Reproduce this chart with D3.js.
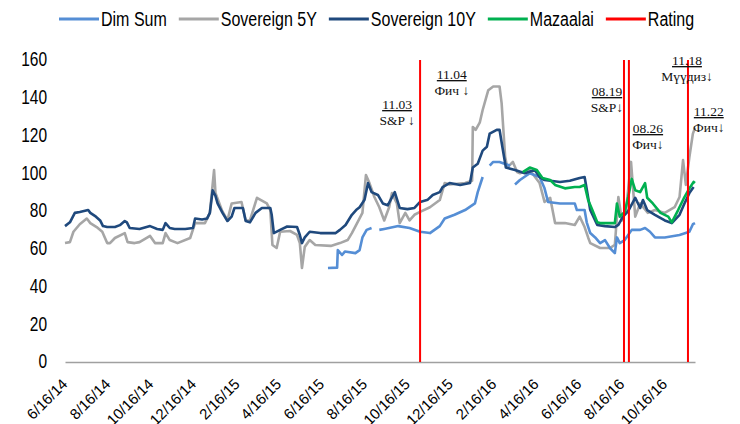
<!DOCTYPE html>
<html><head><meta charset="utf-8">
<script src="https://cdn.jsdelivr.net/npm/d3@7"></script>
<style>body{margin:0;background:#fff}svg{display:block}</style>
</head><body><svg id="c" width="740" height="424"></svg>
<script>
// ---------------- DATA ----------------
const seriesNames = ["Dim Sum", "Sovereign 5Y", "Sovereign 10Y", "Mazaalai", "Rating"];
const yTickValues = [0, 20, 40, 60, 80, 100, 120, 140, 160];
const xTickDates = ["2014-06-16","2014-08-16","2014-10-16","2014-12-16","2015-02-16","2015-04-16","2015-06-16","2015-08-16","2015-10-16","2015-12-16","2016-02-16","2016-04-16","2016-06-16","2016-08-16","2016-10-16"];

const sov10Dates = ["2014-06-16","2014-06-23","2014-06-30","2014-07-07","2014-07-19","2014-07-22","2014-07-30","2014-08-05","2014-08-09","2014-08-15","2014-08-26","2014-09-02","2014-09-09","2014-09-12","2014-09-16","2014-09-30","2014-10-15","2014-10-25","2014-11-02","2014-11-06","2014-11-12","2014-11-19","2014-12-04","2014-12-15","2014-12-18","2014-12-28","2015-01-04","2015-01-08","2015-01-12","2015-01-16","2015-01-19","2015-01-26","2015-02-02","2015-02-08","2015-02-12","2015-02-24","2015-02-28","2015-03-06","2015-03-14","2015-03-23","2015-04-04","2015-04-06","2015-04-09","2015-04-18","2015-04-28","2015-05-12","2015-05-16","2015-05-19","2015-05-23","2015-05-30","2015-06-14","2015-07-06","2015-07-12","2015-07-20","2015-07-29","2015-08-04","2015-08-09","2015-08-16","2015-08-21","2015-08-26","2015-09-04","2015-09-11","2015-09-18","2015-09-28","2015-10-05","2015-10-16","2015-10-26","2015-11-03","2015-11-14","2015-11-21","2015-12-01","2015-12-05","2015-12-15","2015-12-30","2016-01-13","2016-01-17","2016-01-24","2016-01-31","2016-02-06","2016-02-10","2016-02-20","2016-02-24","2016-02-28","2016-03-04","2016-03-17","2016-03-31","2016-04-14","2016-04-21","2016-04-28","2016-05-20","2016-06-03","2016-06-17","2016-06-24","2016-06-26","2016-07-02","2016-07-12","2016-07-23","2016-08-06","2016-08-11","2016-08-16","2016-08-20","2016-08-25","2016-08-28","2016-09-04","2016-09-11","2016-09-15","2016-09-21","2016-10-02","2016-10-16","2016-10-26","2016-11-06","2016-11-13","2016-11-20","2016-11-26"];
const sov10Values = [72,74,79,79.5,80.5,79,77,75,72,71.5,71.5,72.5,74.7,74,71,70.5,72,70.5,70,73.6,71,70.5,70.5,71,76,75.5,76,79,91,88,84,79,74.7,77,81.6,81.6,74.7,74,79,81.6,81.6,78,68.3,70,71.8,71.5,67.3,63,66,69,68.3,68.3,70,72.6,78,80.5,82,86,94.8,90,88.5,84,83,90,81.6,81,81.6,84.8,86,88.5,90,92.7,94.8,93.8,94.8,103,105,112,114,121,123,123,114,103,101.7,100,101.7,98,96.4,95.4,96,97.5,98,93.8,80.5,72.6,72,71.5,72.6,76,78,80,82,87,81.6,85.8,80.5,78,75,73.6,78,84,89.5,92.7];

const sov5Dates = ["2014-06-16","2014-06-23","2014-06-28","2014-07-07","2014-07-17","2014-07-22","2014-07-31","2014-08-08","2014-08-15","2014-08-19","2014-08-26","2014-09-09","2014-09-13","2014-09-23","2014-09-30","2014-10-15","2014-10-22","2014-11-02","2014-11-06","2014-11-12","2014-11-23","2014-12-11","2014-12-18","2015-01-01","2015-01-08","2015-01-14","2015-01-16","2015-01-25","2015-02-02","2015-02-08","2015-02-22","2015-02-28","2015-03-06","2015-03-16","2015-03-30","2015-04-04","2015-04-07","2015-04-13","2015-04-18","2015-05-02","2015-05-12","2015-05-16","2015-05-19","2015-05-23","2015-05-30","2015-06-07","2015-06-29","2015-07-12","2015-07-23","2015-07-29","2015-08-06","2015-08-13","2015-08-18","2015-08-23","2015-08-30","2015-09-06","2015-09-13","2015-09-20","2015-09-24","2015-10-01","2015-10-05","2015-10-13","2015-10-19","2015-10-26","2015-11-03","2015-11-17","2015-12-01","2015-12-08","2015-12-15","2016-01-06","2016-01-16","2016-01-17","2016-01-21","2016-01-27","2016-01-31","2016-02-08","2016-02-15","2016-02-24","2016-02-27","2016-03-03","2016-03-06","2016-03-14","2016-03-20","2016-03-24","2016-04-07","2016-04-21","2016-04-28","2016-05-06","2016-05-13","2016-05-27","2016-06-10","2016-06-17","2016-06-24","2016-06-29","2016-07-02","2016-07-16","2016-07-30","2016-08-06","2016-08-11","2016-08-16","2016-08-22","2016-08-29","2016-09-04","2016-09-11","2016-09-22","2016-10-02","2016-10-16","2016-10-30","2016-11-06","2016-11-11","2016-11-15","2016-11-20","2016-11-25","2016-11-28"];
const sov5Values = [63,63.5,69,73,76,73.6,71.5,69,63,63,65.7,68.3,63.5,63,63.5,66.8,63,63,68.3,64.6,63,65.7,73.6,73.6,79,101.7,89.5,80.5,75,84,84.8,75,75,87,84,80.5,62,60.4,69,69.4,67.3,63,49.8,61,64.6,62,61.5,63,64.6,68.3,74,79,99,94.8,87.4,82,75,82,89.5,84,73.6,79,75,78,79.5,82,85.8,94.8,94,94.8,96,124.5,123,127,133.5,144,146,146,137,108.6,103,106,100.6,100,101.7,94.8,84.8,87,73.6,73.6,72.6,77,71.5,66,63,60.4,60.4,62,87.4,75,80.5,106,77,84,79,80.5,79,82,87.4,107,93.8,108.6,121,124];

const dimSumDates = ["2015-06-25","2015-07-08","2015-07-09","2015-07-15","2015-07-19","2015-08-03","2015-08-09","2015-08-13","2015-08-19","2015-08-26","2015-08-31","2015-09-06","2015-09-13","2015-10-03","2015-10-19","2015-11-03","2015-11-17","2015-12-01","2015-12-08","2015-12-22","2016-01-06","2016-01-20","2016-01-24","2016-01-31","2016-02-04","2016-02-10","2016-02-15","2016-02-24","2016-03-10","2016-03-13","2016-03-17","2016-03-24","2016-04-07","2016-04-21","2016-04-28","2016-05-03","2016-05-20","2016-06-10","2016-06-13","2016-06-24","2016-06-27","2016-07-02","2016-07-09","2016-07-16","2016-07-23","2016-07-30","2016-08-06","2016-08-09","2016-08-13","2016-08-20","2016-08-30","2016-09-11","2016-09-18","2016-09-25","2016-10-02","2016-10-16","2016-11-06","2016-11-20","2016-11-25","2016-11-28"];
const dimSumValues = [49.8,50,59.3,56.7,58.5,57.7,59.3,66,70,71,null,70,70.5,72,71,69,68.3,72,76,78,80.5,84,90,98,null,104,106,106,104,null,94,96.4,100,98,92,84.8,84,84,80.5,80.5,74,68.3,66,63,64.6,60.4,57.7,66,63,64.6,70,70,71,69,66,66,67.3,69,73,73.6];

const mazaalaiDates = ["2016-03-28","2016-04-07","2016-04-17","2016-04-25","2016-05-06","2016-05-13","2016-05-27","2016-06-10","2016-06-17","2016-06-24","2016-06-29","2016-07-05","2016-07-12","2016-07-16","2016-08-06","2016-08-09","2016-08-13","2016-08-20","2016-08-25","2016-08-30","2016-09-04","2016-09-11","2016-09-18","2016-09-21","2016-09-29","2016-10-10","2016-10-21","2016-10-26","2016-11-04","2016-11-13","2016-11-20","2016-11-26","2016-11-28"];
const mazaalaiValues = [100.6,103,101.7,97.5,96.4,93.8,92,92.7,92.7,93.8,85.8,80.5,74,73.6,73.6,84,77,79.5,87.4,97,91,90,94.8,87,84,79,77,74,80.5,87.4,92,95.4,94.8];

const ratingLineDates = ["2015-11-03","2016-08-19","2016-08-26","2016-11-18"];
const ratingDates = ["2015-11-03","2015-11-04","2016-08-19","2016-08-26","2016-11-18","2016-11-22"];
const ratingLabels = ["11.03","11.04","08.19","08.26","11.18","11.22"];
const ratingAgencies = ["S&P ↓","Фич ↓","S&P↓","Фич↓","Мүүдиз↓","Фич↓"];

// ---------------- LAYOUT / STYLE ----------------
const colors = {"Dim Sum":"#558ED5","Sovereign 5Y":"#A6A6A6","Sovereign 10Y":"#1F497D","Mazaalai":"#00B050","Rating":"#FF0000"};
const annDx = [-23, 31, -17, 19, -1, 18];
const annY  = [109, 79, 96, 133, 65, 116];
const sansFont = "'Liberation Sans', Arial, sans-serif";
const serifFont = "'Liberation Serif', 'Times New Roman', serif";
const stretch = 1.25;

const parse = d3.timeParse("%Y-%m-%d");
const svg = d3.select("#c");
const x = d3.scaleTime().domain([parse("2014-06-16"), parse("2016-11-28")]).range([65, 695]);
const y = d3.scaleLinear().domain([0, 160]).range([362, 60]);

// Y axis labels
const yAx = svg.append("g").attr("transform", "translate(56,0)")
  .call(d3.axisLeft(y).tickValues(yTickValues).tickSize(0).tickPadding(9));
yAx.select(".domain").remove();
yAx.selectAll("text").attr("font-family", sansFont).attr("font-size", 15.5).attr("fill", "#000")
  .attr("dy", "0.3em").attr("transform", `scale(1,${stretch})`).attr("y", 0);
yAx.selectAll(".tick").each(function(){
  const t = d3.select(this).select("text");
  t.attr("transform", `scale(1,${stretch})`);
});

// X axis
const xAx = svg.append("g").attr("transform", "translate(0,362)")
  .call(d3.axisBottom(x).tickValues(xTickDates.map(parse)).tickFormat(d3.timeFormat("%-m/%-d/%y")).tickSize(0));
xAx.select(".domain").attr("stroke", "#A0A0A0").attr("stroke-width", 1.6);
xAx.selectAll("text").attr("font-family", sansFont).attr("font-size", 15).attr("fill", "#000")
  .attr("text-anchor", "end").attr("x", 3).attr("y", 23).attr("dy", 0)
  .attr("transform", "rotate(-45 3 23)");

// Series lines
function makeSeries(dates, values) {
  return dates.map((d, i) => ({ date: parse(d), value: values[i] }));
}
const line = d3.line().defined(d => d.value !== null).x(d => x(d.date)).y(d => y(d.value));
const seriesData = [
  ["Sovereign 5Y", makeSeries(sov5Dates, sov5Values)],
  ["Dim Sum", makeSeries(dimSumDates, dimSumValues)],
  ["Sovereign 10Y", makeSeries(sov10Dates, sov10Values)],
  ["Mazaalai", makeSeries(mazaalaiDates, mazaalaiValues)]
];
svg.append("g").selectAll("path").data(seriesData).join("path")
  .attr("d", d => line(d[1])).attr("fill", "none")
  .attr("stroke", d => colors[d[0]]).attr("stroke-width", 2.6)
  .attr("stroke-linejoin", "round");

// Rating lines
svg.append("g").selectAll("line").data(ratingLineDates).join("line")
  .attr("x1", d => x(parse(d))).attr("x2", d => x(parse(d)))
  .attr("y1", y(160)).attr("y2", y(0))
  .attr("stroke", colors["Rating"]).attr("stroke-width", 2);

// Annotations
const ann = svg.append("g").attr("font-family", serifFont).attr("font-size", 13.5).attr("fill", "#111").attr("text-anchor", "middle");
ratingDates.forEach((d, i) => {
  const cx = x(parse(d)) + annDx[i];
  ann.append("text").attr("x", cx).attr("y", annY[i]).style("text-decoration", "underline").text(ratingLabels[i]);
  ann.append("text").attr("x", cx).attr("y", annY[i] + 16).text(ratingAgencies[i]);
});

// Legend
const leg = svg.append("g");
let lx = 59;
const ly = 19;
seriesNames.forEach(name => {
  leg.append("line").attr("x1", lx).attr("x2", lx + 40).attr("y1", ly).attr("y2", ly)
    .attr("stroke", colors[name]).attr("stroke-width", 3);
  const t = leg.append("text").attr("font-family", sansFont).attr("font-size", 16).attr("fill", "#000")
    .attr("dy", "0.35em")
    .attr("transform", `translate(${lx + 42},${ly}) scale(1,${stretch})`).text(name);
  lx += 42 + t.node().getComputedTextLength() + 12;
});
</script>
</body></html>
